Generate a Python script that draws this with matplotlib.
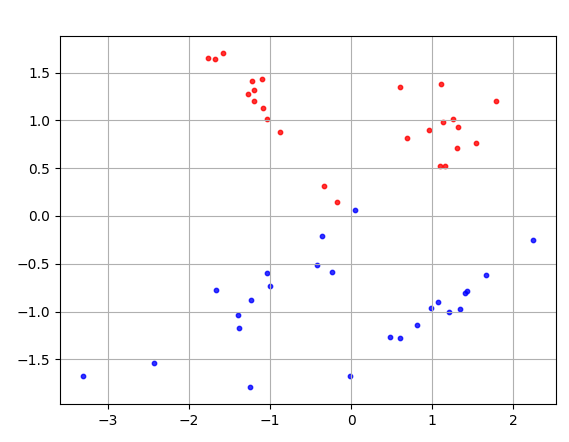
import matplotlib
matplotlib.use("Agg")
import matplotlib.pyplot as plt

red_x = [-1.762, -1.683, -1.577, -1.226, -1.095, -1.201, -1.275, -1.201, -1.083, -1.037, -0.873,
         -0.330, -0.169,
         0.597, 1.115, 1.794, 1.136, 1.259, 1.325, 0.963, 0.687, 1.539, 1.305, 1.095, 1.156]
red_y = [1.653, 1.643, 1.708, 1.417, 1.438, 1.320, 1.274, 1.205, 1.125, 1.010, 0.882,
         0.316, 0.149,
         1.354, 1.385, 1.198, 0.983, 1.010, 0.930, 0.896, 0.813, 0.760, 0.708, 0.521, 0.528]

blue_x = [-1.041, -1.008, -1.663, -1.243, -1.395, -1.387, -2.432, -3.317, -1.251,
          -0.354, 2.251, -0.428, -0.235, 1.667, 1.436, 1.403, 1.078, 0.988, 1.202, 1.346,
          0.811, 0.477, 0.605, -0.012, 0.045]
blue_y = [-0.594, -0.733, -0.778, -0.878, -1.035, -1.177, -1.538, -1.674, -1.792,
          -0.208, -0.253, -0.517, -0.590, -0.618, -0.788, -0.806, -0.903, -0.965, -1.000, -0.976,
          -1.139, -1.264, -1.278, -1.674, 0.0625]

fig = plt.figure(figsize=(5.69, 4.42), dpi=100)
ax = fig.add_axes([60/569, 1-404/442, 496/569, 368/442])
ax.scatter(red_x, red_y, s=10, c='red', alpha=0.8)
ax.scatter(blue_x, blue_y, s=10, c='blue', alpha=0.8)
ax.grid(True)
fig.savefig("out.png", dpi=100)
